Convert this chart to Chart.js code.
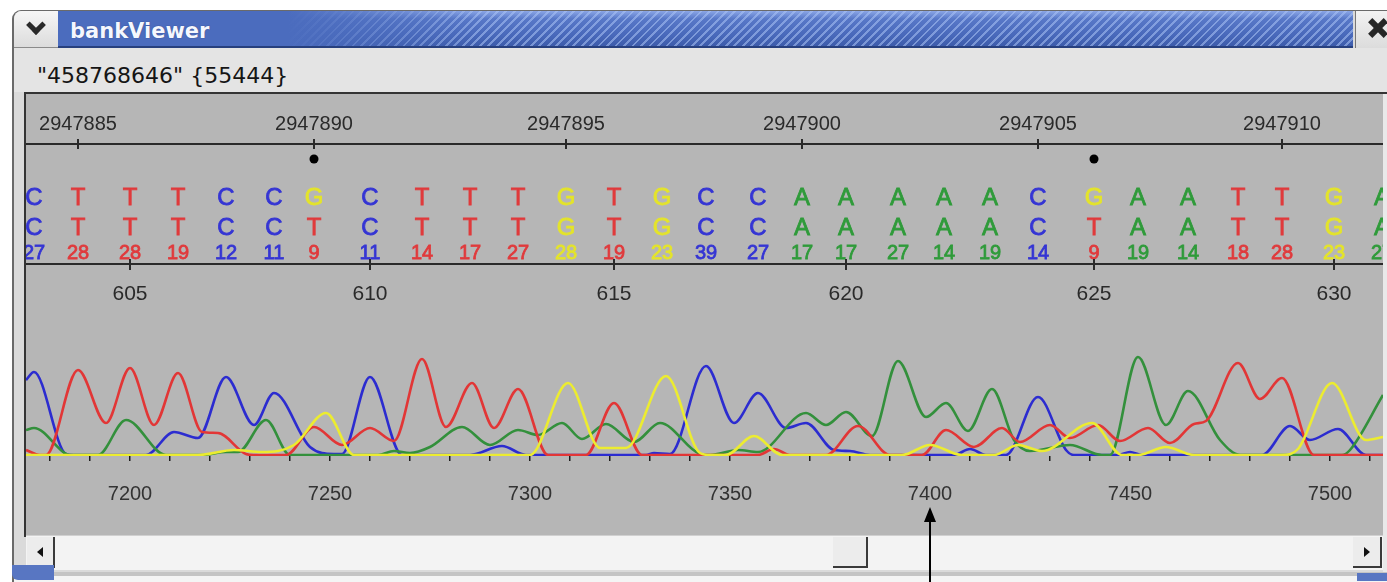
<!DOCTYPE html>
<html lang="en">
<head>
<meta charset="utf-8">
<title>bankViewer</title>
<script src="https://cdn.jsdelivr.net/npm/chart.js@4.4.1/dist/chart.umd.min.js"></script>
<style>
  html, body { margin: 0; padding: 0; background: #fff; }
  body { position: relative; width: 1387px; height: 582px; overflow: hidden; }
  .abs { position: absolute; }
  #frame { left: 12px; top: 10px; width: 1390px; height: 580px; background: #dadada; border-left: 2px solid #6a6a6a; border-top: 1px solid #6a6a6a; border-top-left-radius: 9px; box-sizing: border-box; }
  #chevBox { left: 14px; top: 11px; width: 44px; height: 37px; background: linear-gradient(#f6f6f6, #dcdcdc); border-top-left-radius: 8px; border-bottom: 1px solid #8a8a8a; box-sizing: border-box; }
  #chev { left: 29px; top: 18px; width: 9px; height: 9px; border-right: 5px solid #2a2a2a; border-bottom: 5px solid #2a2a2a; transform: rotate(45deg); }
  #titlebar { left: 58px; top: 11px; width: 1295px; height: 37px;
    background:
      linear-gradient(to right, #4b6cbe 0, #4b6cbe 230px, rgba(75,108,190,0) 420px),
      repeating-linear-gradient(135deg, rgba(255,255,255,0) 0 4px, rgba(170,195,245,0.55) 4px 6px),
      linear-gradient(#8ba6e6 0, #5878c8 22%, #4868ba 70%, #3d5cab 100%);
    border-bottom: 2px solid #27407e; box-sizing: border-box; }
  #title { left: 70px; top: 13px; font: bold 21px/36px "DejaVu Sans", sans-serif; color: #f4f7ff; text-shadow: 0 0 1px #23356e; }
  #closeBox { left: 1355px; top: 11px; width: 32px; height: 37px; background: linear-gradient(#f2f2f2, #dcdcdc); border-left: 1px solid #777; box-sizing: border-box; }
  .xbar { left: 1367px; top: 25px; width: 22px; height: 6px; background: #262626; }
  #strip { left: 14px; top: 48px; width: 1373px; height: 44px; background: #e4e4e4; }
  #ident { left: 37px; top: 56px; font: 22px/40px "DejaVu Sans", sans-serif; color: #151515; white-space: nowrap; }
  #panelTop { left: 24px; top: 92px; width: 1363px; height: 2px; background: #343434; }
  #panelLeft { left: 24px; top: 92px; width: 2px; height: 445px; background: #343434; }
  #trace { left: 26px; top: 94px; background: #b6b6b6; }
  #rightEdge { left: 1383px; top: 94px; width: 4px; height: 478px; background: #e9e9e9; }
  #scroll { left: 26px; top: 535px; width: 1357px; height: 35px; background: #f3f3f3; border-top: 1px solid #d0d0d0; box-sizing: border-box; }
  .btn { top: 537px; height: 31px; background: #ececec; border-right: 2px solid #3a3a3a; border-bottom: 2px solid #3a3a3a; box-sizing: border-box; }
  #btnL { left: 27px; width: 28px; }
  #btnR { left: 1353px; width: 29px; }
  #thumb { left: 833px; width: 35px; }
  #triL { left: 37px; top: 547px; border-top: 5px solid transparent; border-bottom: 5px solid transparent; border-right: 6px solid #111; }
  #triR { left: 1364px; top: 547px; border-top: 5px solid transparent; border-bottom: 5px solid transparent; border-left: 6px solid #111; }
  #bottomLine { left: 14px; top: 572px; width: 1373px; height: 4px; background: #c4c4c4; }
  #bottomWhite { left: 14px; top: 576px; width: 1373px; height: 6px; background: #f4f4f4; }
  #cornerL { left: 12px; top: 565px; width: 42px; height: 15px; background: #5876c2; border-bottom-left-radius: 6px; }
  #cornerR { left: 1357px; top: 573px; width: 30px; height: 8px; background: #5876c2; }
  #arrowShaft { left: 929px; top: 520px; width: 2px; height: 62px; background: #000; z-index: 5; }
  #arrowHead { left: 924px; top: 507px; border-left: 6px solid transparent; border-right: 6px solid transparent; border-bottom: 15px solid #000; z-index: 5; }
</style>
</head>
<body>
<div id="frame" class="abs"></div>
<div id="chevBox" class="abs"></div>
<div id="chev" class="abs"></div>
<div id="titlebar" class="abs"></div>
<div id="title" class="abs">bankViewer</div>
<div id="closeBox" class="abs"></div>
<div class="abs xbar" style="transform: rotate(45deg)"></div>
<div class="abs xbar" style="transform: rotate(-45deg)"></div>
<div id="strip" class="abs"></div>
<div id="ident" class="abs">"458768646" {55444}</div>
<div id="panelTop" class="abs"></div>
<div id="panelLeft" class="abs"></div>
<canvas id="trace" class="abs" width="1357" height="441"></canvas>
<div id="rightEdge" class="abs"></div>
<div id="scroll" class="abs"></div>
<div id="btnL" class="abs btn"></div>
<div id="thumb" class="abs btn"></div>
<div id="btnR" class="abs btn"></div>
<div id="triL" class="abs"></div>
<div id="triR" class="abs"></div>
<div id="bottomLine" class="abs"></div>
<div id="bottomWhite" class="abs"></div>
<div id="cornerL" class="abs"></div>
<div id="cornerR" class="abs"></div>
<div id="arrowShaft" class="abs"></div>
<div id="arrowHead" class="abs"></div>

<script>
// bankViewer - read 458768646 trace around read positions 603-631

// Base calls: consensus row, read row and quality values
const consensus = ['C','T','T','T','C','C','G','C','T','T','T','G','T','G','C','C','A','A','A','A','A','C','G','A','A','T','T','G','A'];
const readBases = ['C','T','T','T','C','C','T','C','T','T','T','G','T','G','C','C','A','A','A','A','A','C','T','A','A','T','T','G','A'];
const quality = [27,28,28,19,12,11,9,11,14,17,27,28,19,23,39,27,17,17,27,14,19,14,9,19,14,18,28,23,27];

// trace sample at which each base was called
const basePos = [7176,7187,7200,7212,7224,7236,7246,7260,7273,7285,7297,7309,7321,7333,7344,7357,7368,7379,7392,7403.5,7415,7427,7441,7452,7464.5,7477,7488,7501,7513];

const firstReadPos = 603;
const firstRefPos = 2947884;
const readTicks = [605, 610, 615, 620, 625, 630];
const refTicks = [2947885, 2947890, 2947895, 2947900, 2947905, 2947910];
const sampleTicks = [7200, 7250, 7300, 7350, 7400, 7450, 7500];

// Chromatogram traces, [sample, signal] read at peaks and valleys
const traceA = [[7174,25],[7176,27],[7184,1],[7185,0],[7192,0],[7199,35],[7209,0],[7218,0],[7224,3],[7227,3],[7234,35],[7240,0],[7262,0],[7266,4],[7270,2],[7275,8],[7283,28],[7290,10],[7297,25],[7302,20],[7308,32],[7313,16],[7319,31],[7326,13],[7332.5,32],[7342.5,1],[7345,0],[7352,5],[7357,3],[7369,42],[7374,30],[7379,43],[7385.5,19],[7392,94],[7399,38],[7404,52],[7409.5,24],[7415.5,66],[7421,15],[7425,4],[7435,10],[7443,0],[7445,0],[7452,98],[7459,30],[7464.5,64],[7472.5,15],[7477.5,0],[7503,0],[7505,5],[7513.25,60]];
const traceC = [[7174,75],[7176,83],[7184,1],[7186,0],[7204,0],[7211,23],[7217,17],[7224,78],[7231,30],[7236,62],[7245,8],[7251,1],[7253,1],[7260,78],[7268,0],[7285,0],[7293,9],[7299,0],[7329,0],[7331,2],[7335,1],[7344,89],[7351,32],[7357,62],[7364,27],[7369,32],[7376,5],[7380,4],[7385,0],[7406,0],[7410,6],[7414,0],[7419,0],[7427,58],[7434,5],[7436,0],[7447,0],[7450,3],[7453,0],[7483,0],[7490,29],[7495,15],[7502,26],[7509,0],[7513.25,0]];
const traceG = [[7174,0],[7217,0],[7226,5],[7233,3],[7241,10],[7249,42],[7256,0],[7300,0],[7309.5,72],[7317.5,7],[7324,7],[7334,79],[7342.5,2],[7345,0],[7349,0],[7356,19],[7363,0],[7393,0],[7400,10],[7408,0],[7416,0],[7422,10],[7428,4],[7440.5,32],[7448,0],[7452,0],[7459,8],[7466,0],[7488,0],[7492,6],[7500.5,72],[7509,15],[7513.25,18]];
const traceT = [[7174,5],[7177.5,0],[7179,0],[7187,85],[7194,32],[7200,87],[7206,30],[7212,82],[7218,23],[7222,22],[7229,1],[7231,0],[7239,0],[7246,28],[7253,10],[7260,27],[7266,14],[7273,96],[7279,28],[7285.5,72],[7291,27],[7297,66],[7304.5,0],[7314,0],[7321,52],[7328,0],[7357,0],[7361,6],[7365,0],[7374,0],[7382,29],[7390,0],[7398,0],[7404,25],[7411,8],[7418,27],[7422.5,13],[7430,30],[7435,17],[7442,30],[7447.5,14],[7454.5,27],[7460,12],[7466,31],[7469,34],[7477,92],[7482.5,56],[7488,77],[7496,0],[7513.25,0]];

const baseColors = { A: '#2f9b3a', C: '#3535d4', G: '#e4e42a', T: '#e03a3c' };
const traceColors = { A: '#33903c', C: '#2c2cd0', G: '#ecec30', T: '#e23636' };

const FONT = '"Liberation Sans", Arial, sans-serif';

function toPoints(trace) {
    return trace.map(p => ({ x: p[0], y: p[1] }));
}

// slightly heavier text, like the blurred screen font
function heavyText(ctx, text, x, y, color) {
    ctx.fillStyle = color;
    ctx.strokeStyle = color;
    ctx.lineWidth = 0.8;
    ctx.fillText(text, x, y);
    ctx.strokeText(text, x, y);
}

// Draws the reference ruler, base calls and read ruler above the traces
const readoutPlugin = {
    id: 'readout',
    afterDraw(chart) {
        const ctx = chart.ctx;
        const width = chart.width;
        const xs = chart.scales.x;
        const px = i => xs.getPixelForValue(basePos[i]);

        ctx.save();
        ctx.textAlign = 'center';
        ctx.textBaseline = 'alphabetic';

        // reference coordinate ruler
        ctx.fillStyle = '#2a2a2a';
        ctx.fillRect(0, 49, width, 2);
        ctx.font = '20px ' + FONT;
        refTicks.forEach(r => {
            const x = px(r - firstRefPos);
            ctx.fillText(String(r), x, 36);
            ctx.fillRect(x - 1, 45, 2, 10);
        });

        // dots where the read disagrees with the consensus
        ctx.fillStyle = '#000';
        consensus.forEach((b, i) => {
            if (b !== readBases[i]) {
                ctx.beginPath();
                ctx.arc(px(i), 65, 4.5, 0, Math.PI * 2);
                ctx.fill();
            }
        });

        // base rows and quality values
        ctx.font = '24px ' + FONT;
        consensus.forEach((b, i) => heavyText(ctx, b, px(i), 111, baseColors[b]));
        readBases.forEach((b, i) => heavyText(ctx, b, px(i), 141, baseColors[b]));
        ctx.font = '20px ' + FONT;
        quality.forEach((q, i) => heavyText(ctx, String(q), px(i), 164.5, baseColors[readBases[i]]));

        // read position ruler
        ctx.fillStyle = '#2a2a2a';
        ctx.fillRect(0, 169, width, 2);
        ctx.font = '21px ' + FONT;
        readTicks.forEach(r => {
            const x = px(r - firstReadPos);
            ctx.fillRect(x - 1, 165, 2, 11);
            ctx.fillText(String(r), x, 206);
        });
        ctx.restore();
    }
};

function traceDataset(trace, base) {
    return {
        label: base,
        data: toPoints(trace),
        borderColor: traceColors[base],
        borderWidth: 2.6,
        pointRadius: 0,
        cubicInterpolationMode: 'monotone',
        fill: false
    };
}

const chart = new Chart(document.getElementById('trace'), {
    type: 'line',
    data: {
        datasets: [
            traceDataset(traceG, 'G'),
            traceDataset(traceT, 'T'),
            traceDataset(traceA, 'A'),
            traceDataset(traceC, 'C')
        ]
    },
    options: {
        responsive: false,
        animation: false,
        events: [],
        devicePixelRatio: 1,
        layout: { padding: { top: 204, left: 0, right: 0, bottom: 0 } },
        plugins: {
            legend: { display: false },
            tooltip: { enabled: false }
        },
        scales: {
            x: {
                type: 'linear',
                min: 7174,
                max: 7513.25,
                z: 1,
                // fixed axis height, and no side padding so the trace spans the panel
                afterFit: scale => {
                    scale.height = 79;
                    scale.paddingLeft = 0;
                    scale.paddingRight = 0;
                },
                border: { display: false },
                grid: {
                    drawOnChartArea: false,
                    drawTicks: true,
                    tickLength: 5,
                    color: '#1c1c1c',
                    lineWidth: 1.5
                },
                ticks: {
                    stepSize: 10,
                    includeBounds: false,
                    autoSkip: false,
                    maxRotation: 0,
                    padding: 21,
                    color: '#333',
                    font: { family: FONT, size: 20 },
                    callback: v => sampleTicks.includes(v) ? String(v) : ''
                }
            },
            y: {
                display: false,
                min: -1,
                max: 157
            }
        }
    },
    plugins: [readoutPlugin]
});
</script>
</body>
</html>
